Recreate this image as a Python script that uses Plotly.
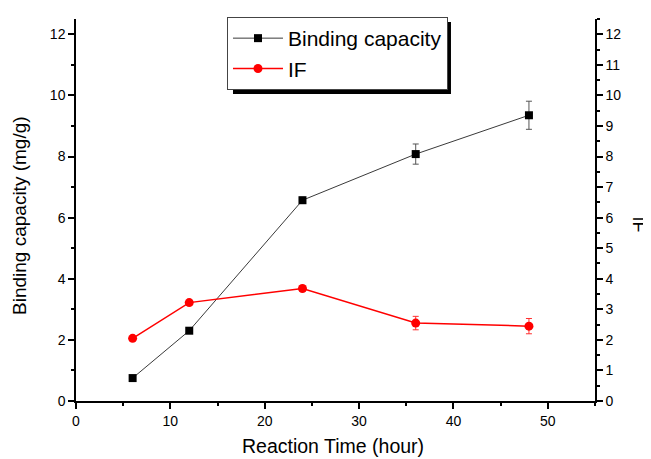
import plotly.graph_objects as go

time_h = [6, 12, 24, 36, 48]
binding_capacity = [0.75, 2.30, 6.57, 8.08, 9.35]
binding_err = [0.08, 0.05, 0.10, 0.33, 0.46]
if_values = [2.05, 3.22, 3.68, 2.55, 2.45]
if_err = [0.05, 0.07, 0.08, 0.22, 0.25]

x_title = "Reaction Time (hour)"
y_title = "Binding capacity (mg/g)"
y2_title = "IF"

FONT = "Liberation Sans, Arial, sans-serif"

fig = go.Figure()
fig.add_trace(go.Scatter(
    x=time_h, y=binding_capacity, name="Binding capacity", mode="lines+markers",
    line=dict(color="#3a3a3a", width=1),
    marker=dict(symbol="square", size=8, color="black"),
    error_y=dict(type="data", array=binding_err, visible=True, color="#555555", thickness=1, width=3),
    yaxis="y",
))
fig.add_trace(go.Scatter(
    x=time_h, y=if_values, name="IF", mode="lines+markers",
    line=dict(color="#ff0000", width=1.5),
    marker=dict(symbol="circle", size=9, color="#ff0000"),
    error_y=dict(type="data", array=if_err, visible=True, color="#ff3030", thickness=1, width=3),
    yaxis="y2",
))

axis_common = dict(
    showline=True, linecolor="black", linewidth=1.5, ticks="outside", ticklen=6,
    tickwidth=1.5, tickcolor="black", showgrid=False, zeroline=False,
    automargin=False,
    tickfont=dict(family=FONT, size=14, color="black"),
)

fig.update_layout(
    width=651, height=459,
    margin=dict(l=68, r=64, t=11, b=66, autoexpand=False),
    paper_bgcolor="white", plot_bgcolor="rgba(0,0,0,0)",
    font=dict(family=FONT, color="black"),
    xaxis=dict(range=[0, 55], dtick=10, tick0=0,
               minor=dict(dtick=5, ticks="outside", ticklen=3, tickcolor="black", tickwidth=1.5),
               **axis_common),
    yaxis=dict(range=[0, 12.5], dtick=2, tick0=0,
               minor=dict(dtick=1, ticks="outside", ticklen=3, tickcolor="black", tickwidth=1.5),
               **axis_common),
    yaxis2=dict(range=[0, 12.5], dtick=1, tick0=0, overlaying="y", side="right",
                minor=dict(dtick=0.5, ticks="outside", ticklen=3, tickcolor="black", tickwidth=1.5),
                **axis_common),
    showlegend=True,
    legend=dict(x=0.3364, y=0.9804, xref="container", yref="container",
                xanchor="left", yanchor="top",
                bgcolor="white", bordercolor="#444444", borderwidth=1,
                font=dict(family=FONT, size=21, color="black"),
                tracegroupgap=0, itemwidth=50),
    shapes=[dict(type="rect", xref="paper", yref="paper",
                 x0=0.3025, x1=0.7225, y0=0.8037, y1=0.992,
                 fillcolor="black", line=dict(width=0), layer="below")],
    annotations=[
        dict(text=x_title, xref="paper", yref="paper", x=0.495, y=-0.118,
             xanchor="center", yanchor="middle",
             showarrow=False, font=dict(family=FONT, size=19.5, color="black")),
        dict(text=y_title, xref="paper", yref="paper", x=-0.1079, y=0.487,
             xanchor="center", yanchor="middle",
             showarrow=False, textangle=-90, font=dict(family=FONT, size=19, color="black")),
        dict(text=y2_title, xref="paper", yref="paper", x=1.084, y=0.4634,
             xanchor="center", yanchor="middle",
             showarrow=False, textangle=90, font=dict(family=FONT, size=18, color="black")),
    ],
)

fig.write_html("out.html")
